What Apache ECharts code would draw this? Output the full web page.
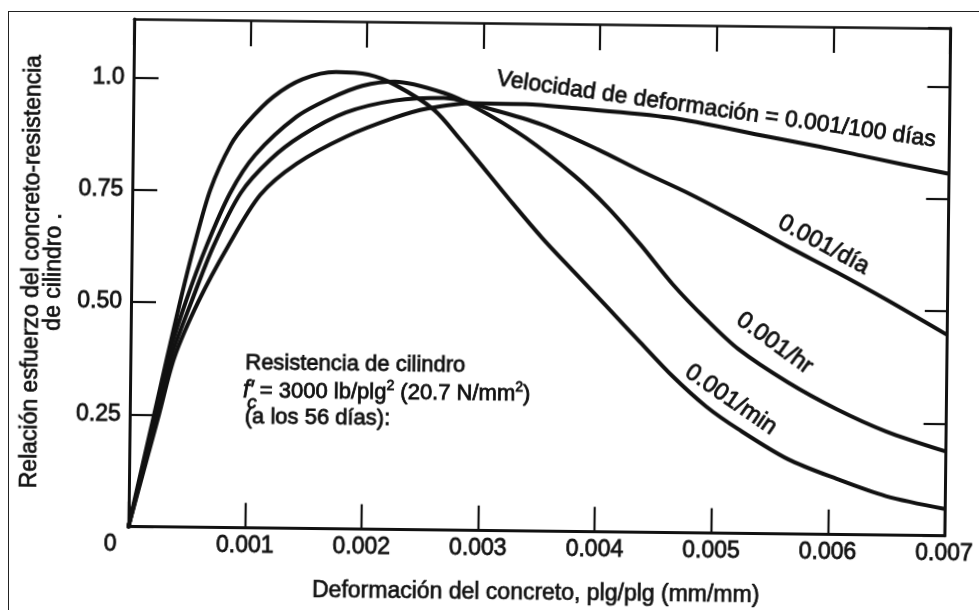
<!DOCTYPE html>
<html>
<head>
<meta charset="utf-8">
<script src="https://cdn.jsdelivr.net/npm/echarts@6/dist/echarts.min.js"></script>
<style>
  html, body { margin: 0; padding: 0; background: #fff; overflow: hidden; }
  #frame { position: absolute; left: 8px; top: 11px; width: 1000px; height: 640px;
           border-left: 1px solid #222; border-top: 1px solid #222; }
  #chart { position: absolute; left: 0; top: 0; width: 979px; height: 610px;
           transform: rotate(0.65deg); }
</style>
</head>
<body>
<div id="frame"></div>
<div id="chart"></div>
<script>
// Stress/strength ratio vs. concrete strain, for four loading rates.
// Each point: [strain (in/in), stress / cylinder strength]
const rateMin = [[0,0],[0.00021,0.251],[0.000315,0.377],[0.00042,0.5],[0.000535,0.625],[0.00067,0.752],[0.00084,0.852],[0.00098,0.902],[0.0012,0.960],[0.00145,1.0],[0.001736,1.017],[0.002014,1.012],[0.002243,0.990],[0.002582,0.935],[0.002812,0.869],[0.002949,0.827],[0.003265,0.729],[0.003521,0.653],[0.003802,0.577],[0.004092,0.499],[0.004373,0.423],[0.004655,0.348],[0.004944,0.282],[0.005224,0.232],[0.005649,0.167],[0.006072,0.124],[0.006495,0.087],[0.007,0.060]];

const rateHr = [[0,0],[0.000227,0.251],[0.000323,0.378],[0.00047,0.502],[0.00064,0.625],[0.00084,0.745],[0.00105,0.83],[0.0014,0.916],[0.00168,0.957],[0.001965,0.987],[0.002243,0.997],[0.002665,0.973],[0.002944,0.941],[0.003368,0.876],[0.003793,0.792],[0.004083,0.722],[0.004364,0.641],[0.004646,0.553],[0.004936,0.476],[0.005217,0.410],[0.005641,0.338],[0.006065,0.279],[0.006488,0.231],[0.007,0.188]];

const rateDay = [[0,0],[0.000235,0.251],[0.000348,0.378],[0.00052,0.503],[0.0007,0.625],[0.00093,0.745],[0.00118,0.82],[0.00145,0.875],[0.001824,0.927],[0.002244,0.955],[0.002665,0.962],[0.003088,0.937],[0.00351,0.905],[0.003993,0.851],[0.004357,0.805],[0.00478,0.755],[0.005204,0.699],[0.005628,0.640],[0.006051,0.584],[0.006475,0.525],[0.007,0.448]];

const rate100Days = [[0,0],[0.000252,0.251],[0.000378,0.378],[0.000579,0.503],[0.000826,0.626],[0.0011,0.742],[0.001408,0.812],[0.001826,0.873],[0.002246,0.917],[0.002523,0.938],[0.002918,0.951],[0.003365,0.950],[0.003762,0.943],[0.004605,0.924],[0.005449,0.884],[0.005896,0.863],[0.006293,0.842],[0.007,0.806]];

const seriesNames = ['0.001/min', '0.001/hr', '0.001/día', '0.001/100 días'];

// Tick labels
const xTickLabels = ['0', '0.001', '0.002', '0.003', '0.004', '0.005', '0.006', '0.007'];
const yTickLabels = ['', '0.25', '0.50', '0.75', '1.0'];

const FONT = '"Liberation Sans", Arial, Helvetica, sans-serif';
const INK = '#111';

const chart = echarts.init(document.getElementById('chart'), null, { renderer: 'canvas' });

const tick = (len, w) => ({ show: true, inside: true, length: len, lineStyle: { color: INK, width: w } });
const line = (w) => ({ show: true, onZero: false, lineStyle: { color: INK, width: w } });

function curve(name, data) {
  return {
    name, type: 'line', data,
    xAxisIndex: 0, yAxisIndex: 0,
    showSymbol: false, symbol: 'none',
    smooth: 0.3,
    lineStyle: { color: INK, width: 4, cap: 'round', join: 'round' },
    silent: true, z: 3
  };
}

const textBase = { fill: INK, fontFamily: FONT, stroke: INK, lineWidth: 0.8 };

chart.setOption({
  animation: false,
  backgroundColor: 'transparent',
  grid: { left: 131, top: 23, width: 831, height: 508.5 },
  xAxis: [
    {
      type: 'value', position: 'bottom', min: 0, max: 0.007, interval: 0.001,
      axisLine: line(3), axisTick: tick(25, 2.2), splitLine: { show: false },
      axisLabel: {
        color: INK, fontFamily: FONT, fontSize: 23, margin: 7,
        textBorderColor: INK, textBorderWidth: 0.8,
        formatter: (v) => {
          const i = Math.round(v / 0.001);
          return i === 0 ? '{o|' + xTickLabels[0] + '}' : xTickLabels[i];
        },
        rich: { o: { fontSize: 23, fontFamily: FONT, color: INK, padding: [0, 36, 0, 0],
                     textBorderColor: INK, textBorderWidth: 0.8 } }
      },
      name: 'Deformación del concreto, plg/plg (mm/mm)',
      nameLocation: 'middle', nameGap: 51,
      nameTextStyle: { color: INK, fontFamily: FONT, fontSize: 23,
                       textBorderColor: INK, textBorderWidth: 0.7 }
    },
    {
      type: 'value', position: 'top', min: 0, max: 0.007, interval: 0.001,
      axisLine: line(2.6), axisTick: tick(26, 2.2), splitLine: { show: false },
      axisLabel: { show: false }
    }
  ],
  yAxis: [
    {
      type: 'value', position: 'left', min: 0, max: 1.13, interval: 0.25,
      axisLine: line(3), axisTick: tick(25, 2.2), splitLine: { show: false },
      axisLabel: {
        color: INK, fontFamily: FONT, fontSize: 23, margin: 9, showMaxLabel: false,
        textBorderColor: INK, textBorderWidth: 0.8,
        formatter: (v) => {
          const i = Math.round(v / 0.25);
          return Math.abs(v - i * 0.25) < 1e-6 ? (yTickLabels[i] || '') : '';
        }
      },
      name: 'Relación esfuerzo del concreto-resistencia\nde cilindro .',
      nameLocation: 'middle', nameGap: 62, nameRotate: 90,
      nameTextStyle: { color: INK, fontFamily: FONT, fontSize: 23, lineHeight: 22,
                       textBorderColor: INK, textBorderWidth: 0.7 }
    },
    {
      type: 'value', position: 'right', min: 0, max: 1.13, interval: 0.25,
      axisLine: line(3), axisTick: tick(22, 2.2), splitLine: { show: false },
      axisLabel: { show: false }
    }
  ],
  series: [
    curve(seriesNames[0], rateMin),
    curve(seriesNames[1], rateHr),
    curve(seriesNames[2], rateDay),
    curve(seriesNames[3], rate100Days)
  ],
  graphic: [
    // curve labels
    { type: 'text', x: 714, y: 107, rotation: -0.128, z: 10,
      style: Object.assign({ text: 'Velocidad de deformación = ' + seriesNames[3], fontSize: 23,
                             align: 'center', verticalAlign: 'middle' }, textBase) },
    { type: 'text', x: 823, y: 241, rotation: -0.486, z: 10,
      style: Object.assign({ text: seriesNames[2], fontSize: 24,
                             align: 'center', verticalAlign: 'middle' }, textBase) },
    { type: 'text', x: 775, y: 340, rotation: -0.617, z: 10,
      style: Object.assign({ text: seriesNames[1], fontSize: 24,
                             align: 'center', verticalAlign: 'middle' }, textBase) },
    { type: 'text', x: 732, y: 397, rotation: -0.594, z: 10,
      style: Object.assign({ text: seriesNames[0], fontSize: 24,
                             align: 'center', verticalAlign: 'middle' }, textBase) },
    // cylinder strength note
    { type: 'text', x: 246, y: 366, z: 10,
      style: Object.assign({ text: 'Resistencia de cilindro', fontSize: 22,
                             align: 'left', verticalAlign: 'middle' }, textBase) },
    { type: 'text', x: 244, y: 394, z: 10,
      style: Object.assign({
        text: '{fi|f′} = 3000 lb/plg{sup|2} (20.7 N/mm{sup|2})', fontSize: 22, lineHeight: 28,
        align: 'left', verticalAlign: 'middle',
        rich: {
          fi: { fontStyle: 'italic', fontSize: 23, fontFamily: FONT, fill: INK, lineHeight: 28 },
          sup: { fontSize: 14, fontFamily: FONT, fill: INK, lineHeight: 14, verticalAlign: 'top' }
        }
      }, textBase) },
    { type: 'text', x: 253, y: 406, z: 10,
      style: Object.assign({ text: 'c', fontSize: 19, fontStyle: 'italic',
                             align: 'center', verticalAlign: 'middle' }, textBase) },
    { type: 'text', x: 246, y: 420, z: 10,
      style: Object.assign({ text: '(a los 56 días):', fontSize: 22,
                             align: 'left', verticalAlign: 'middle' }, textBase) }
  ]
});
</script>
</body>
</html>
